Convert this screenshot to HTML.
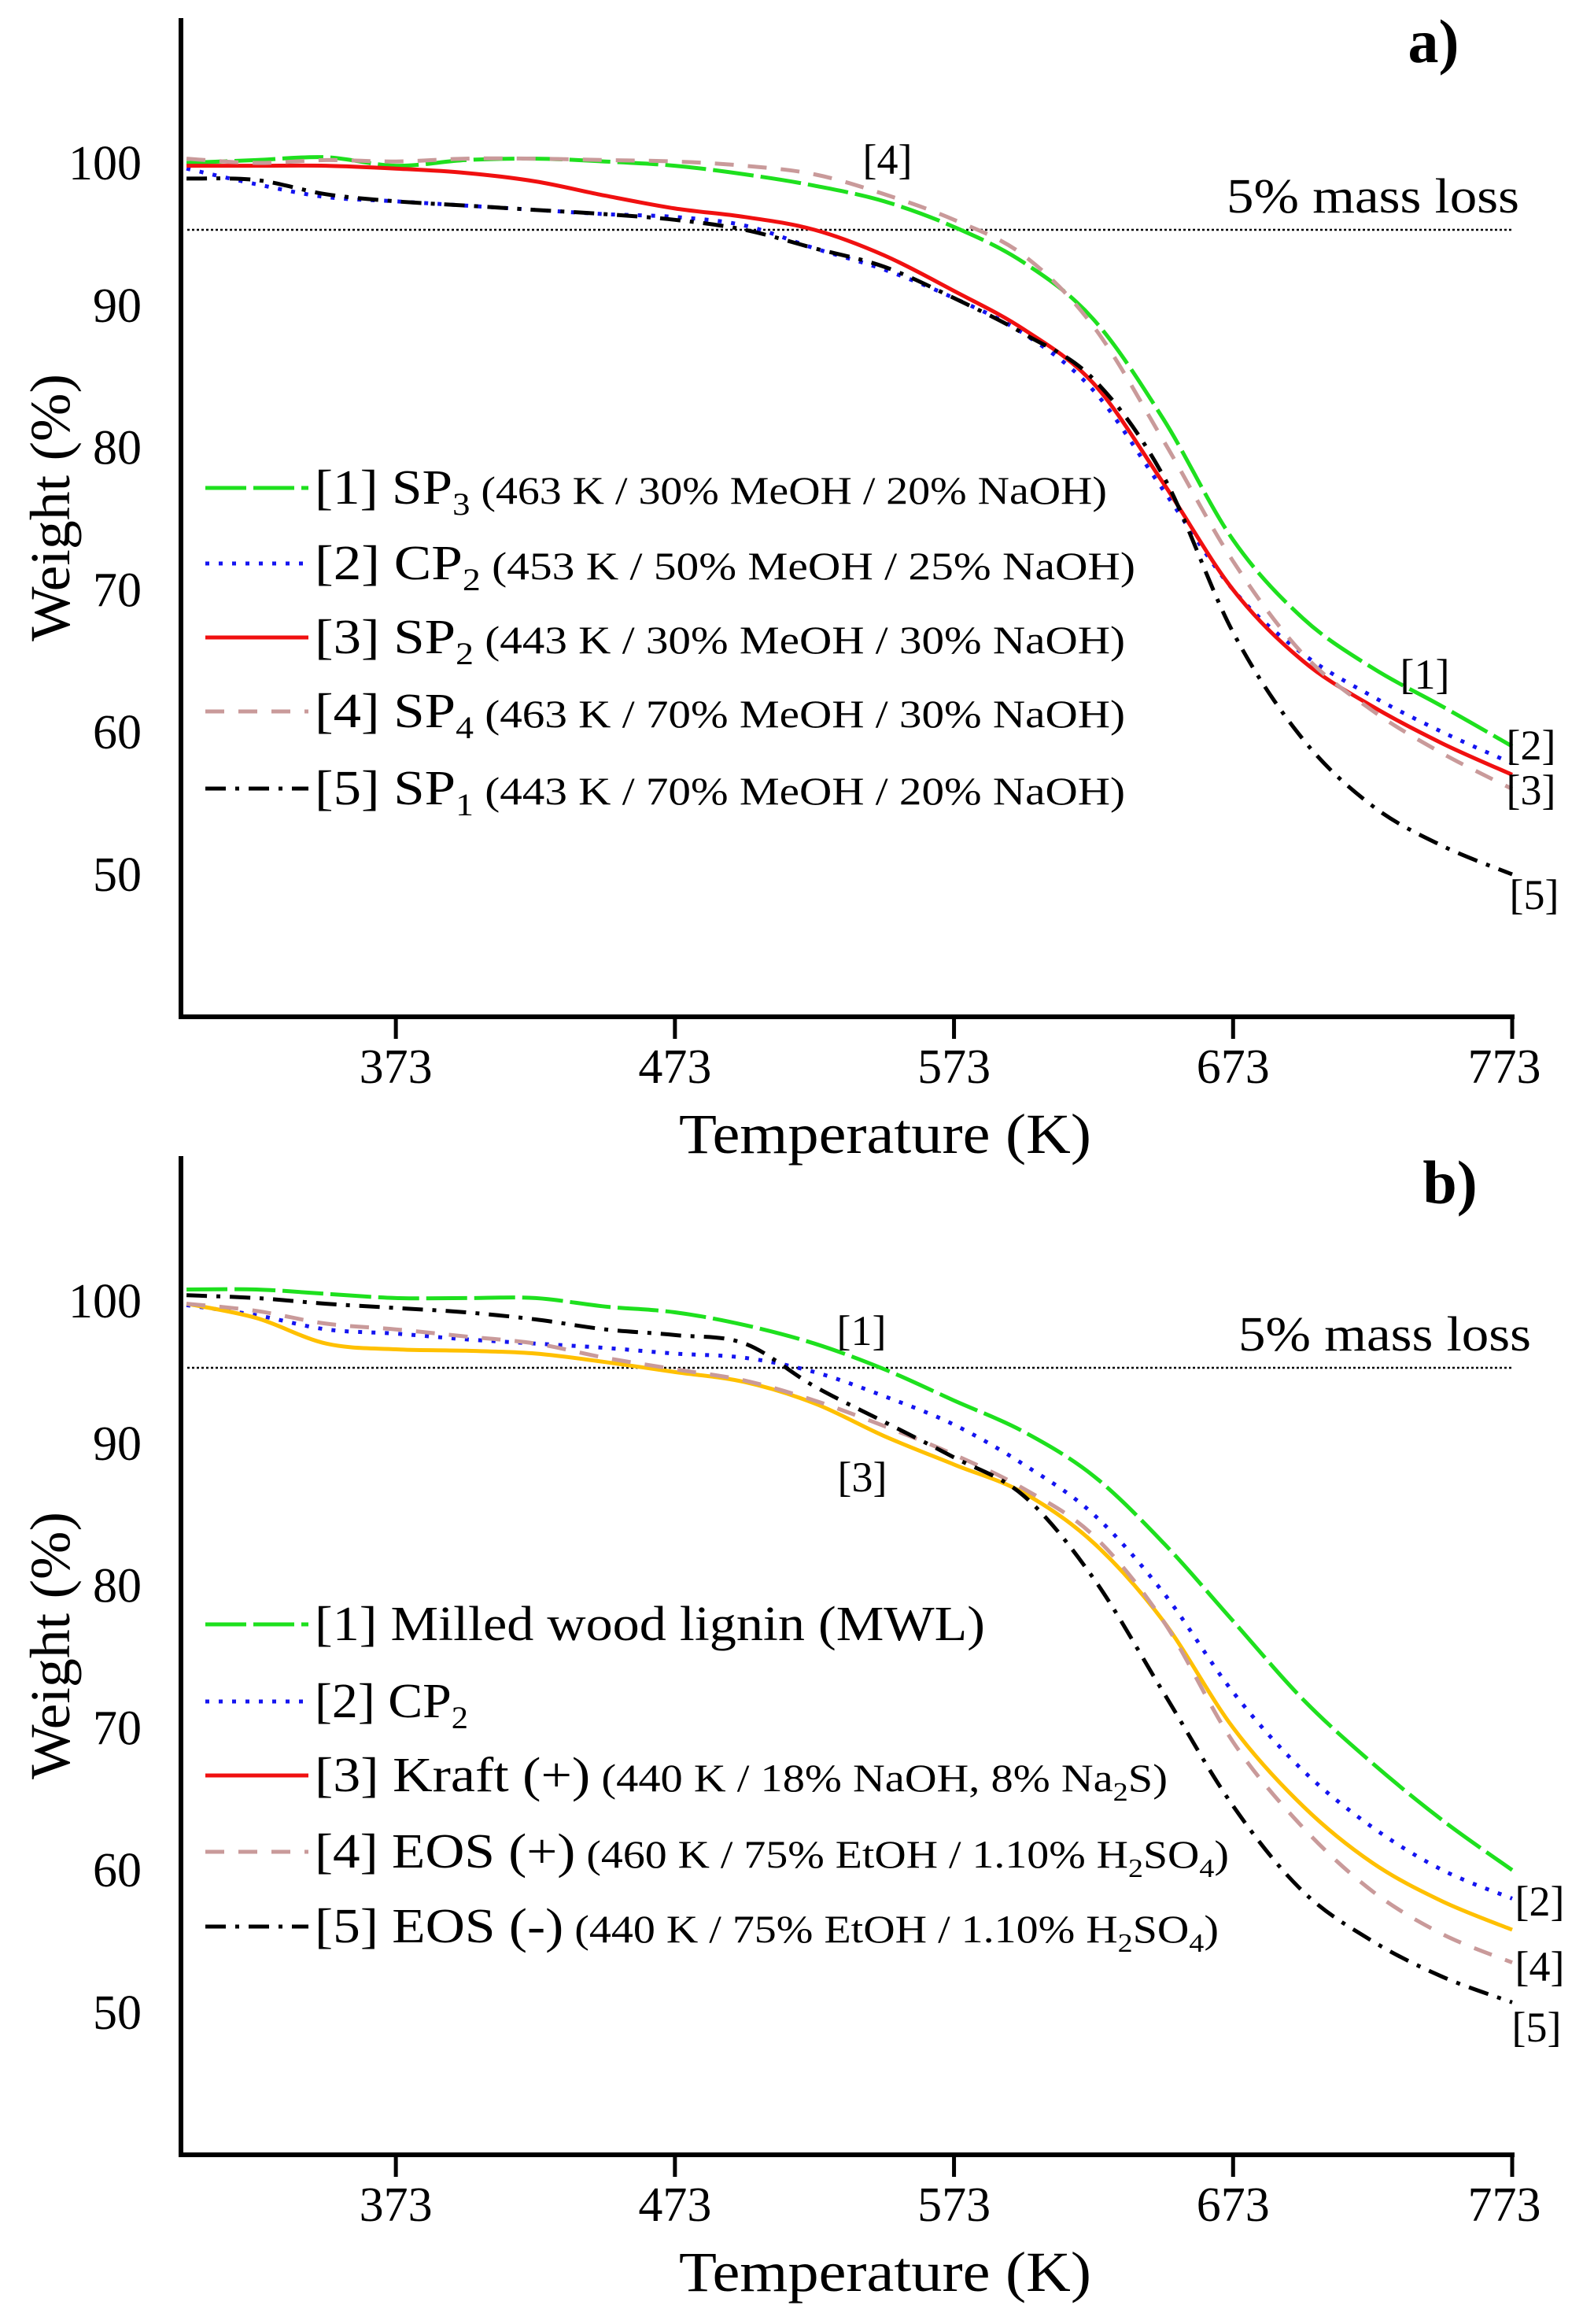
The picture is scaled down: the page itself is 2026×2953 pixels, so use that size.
<!DOCTYPE html>
<html><head><meta charset="utf-8">
<style>
html,body{margin:0;padding:0;background:#fff;}
svg{display:block;font-family:"Liberation Serif",serif;}
</style></head>
<body>
<svg id="chart" width="2026" height="2953" viewBox="0 0 2026 2953" xmlns="http://www.w3.org/2000/svg"></svg>
<script>
// ---- data ----
const temps = [298,323,348,373,398,423,448,473,498,523,548,573,598,623,648,673,698,723,748,773];
const xTicks = [373,473,573,673,773];
const yTicks = [50,60,70,80,90,100];
const threshold = 95.3;

const a1 = [100,100.2,100.4,99.8,100.2,100.3,100.1,99.8,99.2,98.4,97.3,95.5,93.0,89.0,82.0,73.5,68.0,64.5,61.8,59.0];
const a2 = [99.6,98.5,97.6,97.3,97.0,96.7,96.4,96.2,95.6,94.0,92.5,90.5,88.0,84.0,77.0,70.0,65.5,62.5,60.0,57.8];
const a3 = [99.8,99.8,99.8,99.6,99.3,98.7,97.7,96.8,96.2,95.3,93.5,91.0,88.3,84.5,77.5,70.0,65.0,61.8,59.2,57.0];
const a4 = [100.3,100.0,100.2,100.1,100.3,100.3,100.2,100.1,99.8,99.2,97.8,96.0,93.5,88.5,80.5,72.0,65.5,61.5,58.5,56.0];
const a5 = [98.9,98.8,97.8,97.3,97.0,96.7,96.4,96.0,95.3,94.0,92.7,90.5,88.0,84.8,78.0,67.0,59.5,54.8,52.0,50.0];

const b1 = [100.8,100.8,100.5,100.2,100.2,100.2,99.6,99.2,98.3,97.0,95.2,93.0,90.8,87.7,83.0,77.5,72.0,67.5,63.5,60.0];
const b2 = [99.7,99.0,98.0,97.7,97.3,97.0,96.7,96.3,96.0,95.0,93.3,91.3,88.5,85.0,79.5,72.5,67.0,63.0,60.0,58.0];
const b3 = [99.8,98.8,97.0,96.6,96.5,96.3,95.7,95.0,94.3,92.8,90.5,88.5,86.5,83.0,77.5,70.0,64.5,60.5,57.8,55.8];
const b4 = [99.8,99.3,98.4,98.0,97.5,97.0,96.0,95.2,94.4,93.0,91.2,89.2,86.8,83.5,77.5,69.0,63.0,58.5,55.5,53.5];
const b5 = [100.4,100.2,99.8,99.5,99.2,98.7,98.0,97.6,97.0,94.0,91.5,89.0,86.3,80.5,72.5,64.5,58.5,55.0,52.5,50.7];

const NS = "http://www.w3.org/2000/svg";
const svg = document.getElementById('chart');
function el(tag, attrs, parent){ const e=document.createElementNS(NS,tag); for(const k in attrs) e.setAttribute(k,attrs[k]); (parent||svg).appendChild(e); return e; }

const X0=230, X1=1922, T0=296, T1=773;
function xS(t){ return X0 + (t-T0)*(X1-X0)/(T1-T0); }
function smooth(pts){
  let d = `M${pts[0][0].toFixed(1)},${pts[0][1].toFixed(1)}`;
  for(let i=0;i<pts.length-1;i++){
    const p0=pts[Math.max(i-1,0)],p1=pts[i],p2=pts[i+1],p3=pts[Math.min(i+2,pts.length-1)];
    const c1=[p1[0]+(p2[0]-p0[0])/6,p1[1]+(p2[1]-p0[1])/6];
    const c2=[p2[0]-(p3[0]-p1[0])/6,p2[1]-(p3[1]-p1[1])/6];
    d+=` C${c1[0].toFixed(1)},${c1[1].toFixed(1)} ${c2[0].toFixed(1)},${c2[1].toFixed(1)} ${p2[0].toFixed(1)},${p2[1].toFixed(1)}`;
  }
  return d;
}
const styles = {
  green:{stroke:'#1ee01e', dash:'52 9'},
  blue:{stroke:'#1414f0', dash:'5 12'},
  red:{stroke:'#f01010', dash:''},
  orange:{stroke:'#ffc000', dash:''},
  pink:{stroke:'#c99a9a', dash:'24 18'},
  black:{stroke:'#000', dash:'26 12 5 12'}
};

function panel(off, name, series, legend, labels, letter, fivePctX){
  const g = el('g',{});
  
  
  const y100 = 207+off, per10 = 180.8;
  const yS = v => y100 - (v-100)*per10/10;
  const yAxisTop = 23+off, yAxisBot = 1292+off;
  const th = el('line',{x1:X0+8,x2:X1,y1:yS(threshold),y2:yS(threshold),stroke:'#000','stroke-width':2.5,'stroke-dasharray':'3 3'},g);
  
  
  const tt = el('text',{x:fivePctX,y:yS(threshold)-22,'font-size':62,'text-anchor':'end',textLength:372,lengthAdjust:'spacingAndGlyphs'},g);
  tt.textContent='5% mass loss';
  
  
  series.forEach((s,i)=>{
    const st = styles[s.style];
    const p = el('path',{d:smooth(temps.map((t,j)=>[xS(t),yS(s.vals[j])])),fill:'none',stroke:st.stroke,'stroke-width':5,'stroke-dasharray':st.dash,'stroke-linecap':'butt'},g);
    
    
  });
  const ya = el('line',{x1:X0,x2:X0,y1:yAxisTop,y2:yAxisBot+3,stroke:'#000','stroke-width':6},g);
  
  
  const xa = el('line',{x1:X0-3,x2:X1+3,y1:yAxisBot,y2:yAxisBot,stroke:'#000','stroke-width':6},g);
  
  
  xTicks.forEach(t=>{
    const tk = el('line',{x1:xS(t),x2:xS(t),y1:yAxisBot,y2:yAxisBot+28,stroke:'#000','stroke-width':5},g);
    
    
    const lb = el('text',{x:xS(t)-(t===773?10:0),y:yAxisBot+84,'font-size':62,'text-anchor':'middle'},g);
    lb.textContent=String(t);
    
    
  });
  yTicks.forEach(v=>{
    const lb = el('text',{x:180,y:yS(v)+21,'font-size':62,'text-anchor':'end'},g);
    lb.textContent=String(v);
    
    
  });
  const xt = el('text',{x:1125,y:1465+off,'font-size':72,'text-anchor':'middle',textLength:524,lengthAdjust:'spacingAndGlyphs'},g);
  xt.textContent='Temperature (K)';
  
  
  const yt = el('text',{x:0,y:0,'font-size':72,'text-anchor':'middle',transform:`translate(88,${645+off}) rotate(-90)`,textLength:340,lengthAdjust:'spacingAndGlyphs'},g);
  yt.textContent='Weight (%)';
  
  
  const lt = el('text',{x:letter[0],y:letter[1]+off,'font-size':78,'font-weight':'bold','text-anchor':'middle'},g);
  lt.textContent=letter[2];
  
  
  legend.forEach((L,i)=>{
    const st = styles[L.style];
    const ly = L.y+off;
    const ln = el('line',{x1:261,x2:392,y1:ly,y2:ly,stroke:st.stroke,'stroke-width':5,'stroke-dasharray':st.dash},g);
    
    
    const tx = el('text',{x:400,y:ly+20,'font-size':62,textLength:L.w,lengthAdjust:'spacingAndGlyphs'},g);
    
    
    const a = el('tspan',{},tx); a.textContent=L.main;
    if(L.sub){
      const s = el('tspan',{'font-size':40,dy:14},tx); s.textContent=L.sub;
      if(L.rest){ const c = el('tspan',{'font-size':50,dy:-14},tx); c.textContent=L.rest; }
    } else if(L.rest){
      const c = el('tspan',{'font-size':50},tx); c.textContent=L.rest;
    }
    if(L.sub2){
      const s2 = el('tspan',{'font-size':34,dy:12},tx); s2.textContent=L.sub2;
      const c2 = el('tspan',{'font-size':50,dy:-12},tx); c2.textContent=L.rest2;
      if(L.sub3){
        const s3 = el('tspan',{'font-size':34,dy:12},tx); s3.textContent=L.sub3;
        const c3 = el('tspan',{'font-size':50,dy:-12},tx); c3.textContent=L.rest3;
      }
    }
  });
  labels.forEach(L=>{
    const t = el('text',{x:L[0],y:L[1]+off+18,'font-size':54,'text-anchor':'middle'},g);
    t.textContent=L[2];
    
    
  });
}

panel(0,'panel-a',
  [{vals:a1,style:'green'},{vals:a2,style:'blue'},{vals:a3,style:'red'},{vals:a4,style:'pink'},{vals:a5,style:'black'}],
  [{y:620,style:'green',main:'[1] SP',sub:'3',rest:' (463 K / 30% MeOH / 20% NaOH)',w:1007},
   {y:716,style:'blue',main:'[2] CP',sub:'2',rest:' (453 K / 50% MeOH / 25% NaOH)',w:1043},
   {y:810,style:'red',main:'[3] SP',sub:'2',rest:' (443 K / 30% MeOH / 30% NaOH)',w:1030},
   {y:904,style:'pink',main:'[4] SP',sub:'4',rest:' (463 K / 70% MeOH / 30% NaOH)',w:1030},
   {y:1002,style:'black',main:'[5] SP',sub:'1',rest:' (443 K / 70% MeOH / 20% NaOH)',w:1030}],
  [[1128,203,'[4]'],[1811,857,'[1]'],[1946,947,'[2]'],[1946,1004,'[3]'],[1950,1137,'[5]']],
  [1822,79,'a)'], 1931);

panel(1446,'panel-b',
  [{vals:b1,style:'green'},{vals:b2,style:'blue'},{vals:b3,style:'orange'},{vals:b4,style:'pink'},{vals:b5,style:'black'}],
  [{y:618,style:'green',main:'[1] Milled wood lignin (MWL)',sub:'',rest:'',w:852},
   {y:716,style:'blue',main:'[2] CP',sub:'2',rest:'',w:195},
   {y:810,style:'red',main:'[3] Kraft (+)',sub:'',rest:' (440 K / 18% NaOH, 8% Na',sub2:'2',rest2:'S)',w:1084},
   {y:907,style:'pink',main:'[4] EOS (+)',sub:'',rest:' (460 K / 75% EtOH / 1.10% H',sub2:'2',rest2:'SO',sub3:'4',rest3:')',w:1162},
   {y:1002,style:'black',main:'[5] EOS (-)',sub:'',rest:' (440 K / 75% EtOH / 1.10% H',sub2:'2',rest2:'SO',sub3:'4',rest3:')',w:1149}],
  [[1095,245,'[1]'],[1096,431,'[3]'],[1957,970,'[2]'],[1957,1053,'[4]'],[1953,1130,'[5]']],
  [1843,83,'b)'], 1946);
</script>
</body></html>
